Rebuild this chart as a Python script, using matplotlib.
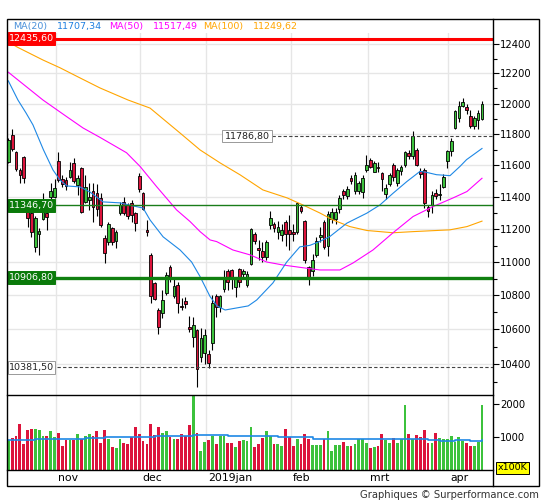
import numpy as np
import pandas as pd
import matplotlib
matplotlib.use("Agg")
import matplotlib.pyplot as plt
from matplotlib.patches import Rectangle
from matplotlib.lines import Line2D
from matplotlib.ticker import FixedLocator, NullFormatter, FuncFormatter

# ---------------- data ----------------
start_date = "2018-10-16"
end_date = "2019-04-12"
holidays = ["2018-12-24", "2018-12-25", "2018-12-26", "2018-12-31", "2019-01-01"]

opens = [11623, 11797, 11683, 11570, 11651, 11350, 11300, 11093, 11171, 11262,
         11300, 11402, 11402, 11627, 11513, 11507, 11528, 11613, 11475, 11580,
         11370, 11381, 11440, 11425, 11393, 11145, 11124, 11206, 11130, 11302,
         11370, 11350, 11364, 11298, 11532, 11423, 11196, 11043, 10872, 10714,
         10698, 10816, 10972, 10797, 10862, 10738, 10769, 10613, 10558, 10597,
         10439, 10466, 10458, 10523, 10797, 10734, 10840, 10945, 10950, 10850,
         10955, 10925, 10860, 10990, 11170, 11085, 11065, 11030, 11225, 11235,
         11180, 11165, 11245, 11195, 11185, 11180, 11335, 11250, 10970, 10945,
         11040, 11150, 11245, 11100, 11260, 11265, 11323, 11440, 11405, 11520,
         11440, 11440, 11430, 11568, 11635, 11560, 11590, 11550, 11420, 11480,
         11600, 11485, 11565, 11600, 11680, 11660, 11700, 11565, 11570, 11340,
         11350, 11425, 11412, 11465, 11625, 11690, 11840, 11905, 11985, 11975,
         11915, 11855, 11895, 11900]
highs = [11775, 11833, 11691, 11583, 11661, 11381, 11330, 11280, 11208, 11425,
         11343, 11486, 11510, 11683, 11539, 11525, 11623, 11647, 11539, 11591,
         11539, 11488, 11486, 11482, 11425, 11165, 11246, 11216, 11196, 11370,
         11402, 11360, 11381, 11309, 11553, 11434, 11257, 11053, 10882, 10724,
         10832, 10942, 10982, 10902, 10882, 10783, 10791, 10678, 10674, 10600,
         10607, 10601, 10481, 10802, 10808, 10802, 10950, 10960, 10955, 10910,
         10965, 10960, 10945, 11210, 11180, 11134, 11120, 11135, 11315, 11245,
         11250, 11230, 11257, 11288, 11230, 11370, 11350, 11255, 10975, 11050,
         11150, 11215, 11255, 11310, 11330, 11330, 11410, 11450, 11470, 11540,
         11555, 11500, 11540, 11665, 11645, 11630, 11620, 11560, 11480, 11550,
         11615, 11580, 11600, 11690, 11700, 11820, 11710, 11580, 11580, 11350,
         11440, 11450, 11480, 11545, 11700, 11775, 11960, 12015, 12035, 12000,
         11960, 11920, 11960, 12015]
lows = [11615, 11691, 11564, 11486, 11486, 11215, 11152, 11063, 11043, 11257,
        11196, 11381, 11392, 11497, 11463, 11444, 11520, 11488, 11412, 11298,
        11360, 11319, 11247, 11281, 11214, 10996, 11103, 11103, 11083, 11288,
        11288, 11261, 11247, 11191, 11434, 11319, 11159, 10754, 10773, 10572,
        10665, 10802, 10882, 10783, 10694, 10714, 10724, 10587, 10500, 10269,
        10414, 10401, 10380, 10481, 10674, 10704, 10820, 10830, 10840, 10790,
        10850, 10900, 10850, 10980, 11110, 11012, 11000, 11010, 11200, 11180,
        11140, 11130, 11095, 11073, 11130, 11170, 11300, 10995, 10860, 10915,
        11030, 11120, 11080, 11035, 11240, 11230, 11300, 11390, 11390, 11480,
        11420, 11420, 11395, 11560, 11580, 11555, 11560, 11440, 11390, 11470,
        11500, 11470, 11540, 11590, 11640, 11640, 11595, 11520, 11330, 11275,
        11300, 11390, 11380, 11455, 11580, 11660, 11830, 11880, 11975, 11930,
        11840, 11835, 11835, 11895]
closes = [11762, 11704, 11574, 11539, 11518, 11270, 11183, 11269, 11191, 11350,
          11275, 11438, 11459, 11507, 11482, 11469, 11570, 11501, 11518, 11308,
          11465, 11402, 11339, 11325, 11226, 11053, 11232, 11124, 11185, 11350,
          11298, 11281, 11288, 11240, 11448, 11323, 11185, 10797, 10777, 10613,
          10773, 10922, 10912, 10856, 10758, 10730, 10750, 10601, 10626, 10371,
          10549, 10568, 10405, 10754, 10734, 10797, 10895, 10880, 10905, 10905,
          10880, 10945, 10930, 11200, 11125, 11075, 11030, 11120, 11268, 11205,
          11215, 11195, 11170, 11170, 11170, 11360, 11315, 11010, 10907, 11015,
          11130, 11165, 11090, 11295, 11305, 11305, 11395, 11410, 11450, 11500,
          11540, 11485, 11520, 11600, 11590, 11615, 11585, 11510, 11458, 11540,
          11525, 11572, 11588, 11686, 11657, 11788, 11603, 11545, 11364, 11315,
          11410, 11405, 11418, 11526, 11690, 11754, 11954, 11985, 12009, 11960,
          11850, 11905, 11935, 11999]
volumes = [910, 985, 1050, 1390, 790, 1230, 1260, 1260, 1230, 1050,
           1050, 1175, 1015, 1130, 730, 910, 910, 910, 1100, 960,
           1050, 1100, 1050, 1200, 820, 1230, 940, 695, 660, 940,
           820, 790, 1015, 1300, 1090, 875, 790, 1390, 1070, 1300,
           1120, 1200, 1015, 940, 960, 1090, 1050, 1370, 2300, 1140,
           590, 855, 910, 1050, 800, 1040, 1040, 820, 820, 695,
           875, 910, 875, 1300, 695, 790, 985, 1175, 1050, 790,
           790, 730, 1260, 1015, 730, 960, 790, 1100, 960, 770,
           770, 770, 960, 1175, 590, 750, 770, 855, 730, 730,
           790, 940, 940, 820, 660, 695, 730, 1100, 910, 820,
           985, 820, 940, 1980, 1100, 960, 1070, 1015, 1230, 820,
           820, 1140, 985, 940, 950, 1040, 855, 1015, 890, 820,
           730, 730, 855, 1980]

ma20_idx = [0, 2.5, 4.6, 6.4, 9.1, 11.6, 13.4, 15.2, 18.6, 21.2, 24.6, 29, 32.4, 35,
            36.8, 40.2, 44.6, 47.6, 49.8, 52.4, 54.2, 56.3, 59.3, 62.3, 64.5, 68.7,
            72.3, 75.7, 78.3, 80.9, 83.5, 87.9, 93.1, 96.5, 99.9, 103.5, 106.9, 108.6,
            111.2, 114.7, 117.3, 119, 123]
ma20_val = [12150, 12023, 11938, 11860, 11700, 11570, 11507, 11469, 11463, 11431, 11369,
            11363, 11344, 11331, 11257, 11153, 11073, 11000, 10912, 10793, 10738, 10714,
            10726, 10738, 10773, 10874, 11000, 11092, 11101, 11125, 11155, 11237, 11299,
            11350, 11423, 11497, 11561, 11555, 11540, 11534, 11593, 11636, 11707.34]
ma50_idx = [0, 9, 15.2, 19.4, 23.8, 30.7, 34.2, 38.5, 43.7, 47.2, 49.8, 52.4, 54.1,
            58.3, 62.8, 67.1, 71.3, 75.7, 80.9, 86.1, 89.5, 94.7, 99.9, 105.1, 110.3,
            115.5, 119.1, 123]
ma50_val = [12208, 12023, 11913, 11840, 11779, 11680, 11593, 11465, 11319, 11247, 11185,
            11134, 11124, 11073, 11043, 11000, 10982, 10968, 10952, 10952, 10994, 11073,
            11178, 11278, 11340, 11394, 11434, 11517.49]
ma100_idx = [0, 2.5, 9, 13.4, 18.6, 23.8, 31.1, 36.8, 44.6, 49.8, 55, 60.2, 66.1, 72.4,
             76.5, 80.9, 84.3, 88.7, 93.1, 99.9, 105.1, 114.7, 119.1, 123]
ma100_val = [12412, 12375, 12290, 12238, 12170, 12103, 12023, 11970, 11807, 11698, 11615,
             11539, 11444, 11394, 11350, 11300, 11257, 11216, 11192, 11178, 11185, 11196,
             11216, 11249.62]
volma_idx = [0, 7, 20, 25, 38, 48, 57, 66, 70, 79, 94, 109, 112, 116, 120, 123]
volma_val = [920, 960, 985, 1015, 1030, 1060, 1050, 1030, 1000, 960, 940, 910, 880, 930,
             890, 920]

level_values = [12435.60, 11786.80, 11346.70, 10906.80, 10381.50]
level_labels = ["12435,60", "11786,80", "11346,70", "10906,80", "10381,50"]

price_ticks = list(range(10400, 12401, 200))
price_minor = list(range(10300, 12401, 100))
vol_ticks = [1000, 2000]
month_names = {11: "nov", 12: "dec", 1: "2019jan", 2: "feb", 3: "mrt", 4: "apr"}

# ---------------- layout ----------------
W, H = 545, 500
fig = plt.figure(figsize=(W / 100, H / 100), dpi=100)
fig.patch.set_facecolor("white")


def fx(p):
    return p / W


def fy(p):
    return 1 - p / H


L_PX, R_PX = 7, 493
TOP_PX, MID_PX, VBOT_PX = 33, 395, 470.4
FRAME_T, FRAME_B, FRAME_R = 19, 486, 538.5

ax = fig.add_axes([fx(L_PX), fy(MID_PX), fx(R_PX) - fx(L_PX), fy(TOP_PX) - fy(MID_PX)])
axv = fig.add_axes([fx(L_PX), fy(VBOT_PX), fx(R_PX) - fx(L_PX), fy(MID_PX) - fy(VBOT_PX)])

GREEN = "#3cc23c"
RED = "#dc143c"
GRID = "#e6e6e6"

dates = pd.bdate_range(start_date, end_date)
dates = dates[~dates.isin(pd.to_datetime(holidays))]
n = len(closes)
xs = np.arange(n)
o = np.array(opens, float)
h = np.array(highs, float)
l = np.array(lows, float)
c = np.array(closes, float)
up = c >= o
cols = np.where(up, GREEN, RED)

xlim = (-0.34, 125.86)
for a in (ax, axv):
    a.set_xlim(*xlim)
    for s in a.spines.values():
        s.set_visible(False)
    a.tick_params(axis="x", bottom=False, labelbottom=False, top=False)
    a.set_facecolor("white")

ax.set_yscale("log")
ax.set_ylim(10225.5, 12473.6)
ax.yaxis.set_major_locator(FixedLocator(price_ticks))
ax.yaxis.set_minor_locator(FixedLocator(price_minor))
ax.yaxis.set_major_formatter(FuncFormatter(lambda v, p: f"{v:.0f}"))
ax.yaxis.set_minor_formatter(NullFormatter())
ax.yaxis.tick_right()
ax.tick_params(axis="y", which="major", direction="out", length=4, width=0.8,
               labelsize=7.2, pad=1, colors="black")
ax.tick_params(axis="y", which="minor", direction="out", length=3, width=0.8)

# month gridlines
month_starts = [i for i in range(1, n) if dates[i].month != dates[i - 1].month]
for i in month_starts:
    ax.axvline(i + 0.3, color=GRID, lw=1.0, zorder=0.5)
    axv.axvline(i + 0.3, color=GRID, lw=1.0, zorder=0.5)
for t in price_ticks:
    ax.axhline(t, color=GRID, lw=1.0, zorder=0.5)

# candles
bw = 0.7
ax.vlines(xs, l, h, color="black", lw=0.8, zorder=3)
for i in range(n):
    lo, hi = min(o[i], c[i]), max(o[i], c[i])
    ax.add_patch(Rectangle((i - bw / 2, lo), bw, max(hi - lo, 0.5), facecolor=cols[i],
                           edgecolor="black", lw=0.6, zorder=4))

# moving averages
ax.plot(ma100_idx, ma100_val, color="#ffa500", lw=0.8, zorder=5)
ax.plot(ma50_idx, ma50_val, color="#ff00ff", lw=0.8, zorder=5)
ax.plot(ma20_idx, ma20_val, color="#1e88e5", lw=0.8, zorder=5)

# level lines
ax.axhline(level_values[0], color="#ff0000", lw=2.2, zorder=6)
ax.plot([68.5, xlim[1]], [level_values[1]] * 2, color="#444444", lw=0.8,
        dashes=(3, 2), zorder=6)
ax.axhline(level_values[2], color="#1a7d1a", lw=1.0, zorder=6)
ax.axhline(level_values[3], color="#108010", lw=2.4, zorder=6)
ax.plot([xlim[0], xlim[1]], [level_values[4]] * 2, color="#444444", lw=0.8,
        dashes=(3, 2), zorder=6)

# volume
axv.bar(xs, volumes, width=0.72, color=cols, zorder=3, linewidth=0)
axv.plot(volma_idx, volma_val, color="#1e88e5", lw=1.2, drawstyle="steps-post", zorder=4)
axv.set_ylim(0, 2271)
axv.yaxis.set_major_locator(FixedLocator(vol_ticks))
axv.yaxis.set_major_formatter(FuncFormatter(lambda v, p: f"{v:.0f}"))
axv.yaxis.tick_right()
axv.tick_params(axis="y", which="major", direction="out", length=4, width=0.8,
                labelsize=7.2, pad=1, colors="black")

# month labels
for i in month_starts:
    nm = month_names[dates[i].month]
    axv.text(i + 0.9, -0.10, nm, transform=axv.get_xaxis_transform(), ha="left",
             va="center", fontsize=7.8, color="black")

# frame lines
fig.add_artist(Rectangle((fx(L_PX), fy(FRAME_B)), fx(FRAME_R) - fx(L_PX),
                         fy(FRAME_T) - fy(FRAME_B), transform=fig.transFigure,
                         fill=False, edgecolor="black", lw=1.0, zorder=10))
fig.add_artist(Line2D([fx(R_PX), fx(R_PX)], [fy(FRAME_T), fy(FRAME_B)],
                      transform=fig.transFigure, color="black", lw=1.0, zorder=10))
for yy in (MID_PX, VBOT_PX):
    fig.add_artist(Line2D([fx(L_PX), fx(R_PX)], [fy(yy), fy(yy)],
                          transform=fig.transFigure, color="black", lw=1.0, zorder=10))

# level label boxes


def level_box(value, label, x0, x1, fc, tc, ec):
    yd = ax.transData.transform((0, value))[1]
    yf = yd / H
    bh = 12.5
    fig.add_artist(Rectangle((fx(x0), yf - bh / 2 / H), (x1 - x0) / W, bh / H,
                             transform=fig.transFigure, facecolor=fc, edgecolor=ec,
                             lw=0.7, zorder=8))
    fig.text(fx((x0 + x1) / 2), yf, label, ha="center", va="center", color=tc,
             fontsize=6.8, zorder=9)


level_box(level_values[0], level_labels[0], 7.5, 55, "#ff0000", "white", "#ff0000")
level_box(level_values[1], level_labels[1], 222, 272, "white", "#222222", "#999999")
level_box(level_values[2], level_labels[2], 7.5, 55, "#0a7a0a", "white", "#0a7a0a")
level_box(level_values[3], level_labels[3], 7.5, 55, "#0a7a0a", "white", "#0a7a0a")
level_box(level_values[4], level_labels[4], 7.5, 55, "white", "#222222", "#999999")

# legend line


def fmt(v):
    return f"{v:.2f}".replace(".", ",")


legend_items = [
    (13, "MA(20)", "#4a90d9"), (57, fmt(ma20_val[-1]), "#1e7fe0"),
    (109, "MA(50)", "#ff00ff"), (153, fmt(ma50_val[-1]), "#ff00ff"),
    (203, "MA(100)", "#ffa500"), (253, fmt(ma100_val[-1]), "#ffa500"),
]
for xp, txt, col in legend_items:
    fig.text(fx(xp), fy(26.5), txt, ha="left", va="center", fontsize=6.8, color=col)

# x100K box
fig.add_artist(Rectangle((fx(496), fy(474)), 33 / W, 12.4 / H, transform=fig.transFigure,
                         facecolor="#ffff00", edgecolor="black", lw=0.7, zorder=8))
fig.text(fx(512.5), fy(467.8), "x100K", ha="center", va="center", fontsize=6.8,
         color="black", zorder=9)

# credit
fig.text(fx(538.5), fy(494.5), "Graphiques \u00a9 Surperformance.com", ha="right",
         va="center", fontsize=7.2, color="#333333")

fig.savefig("out.png", dpi=100)
